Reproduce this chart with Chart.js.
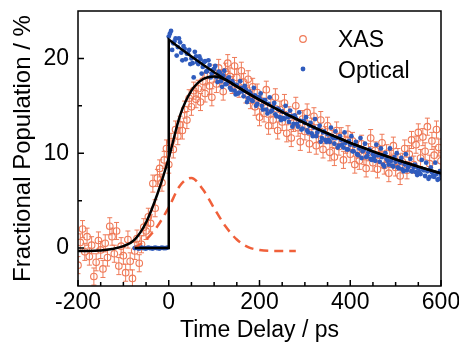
<!DOCTYPE html>
<html>
<head>
<meta charset="utf-8">
<script src="https://cdn.jsdelivr.net/npm/chart.js@4.4.0/dist/chart.umd.min.js"></script>
<style>
  body { margin: 0; background: #fff; }
</style>
</head>
<body>
<canvas id="chart" width="459" height="345"></canvas>
<script>
// XAS transient (open circles with error bars)
const xasTime = [
  -200,-195,-190,-185,-180,-175,-170,-165,-160,-155,
  -150,-145,-140,-135,-130,-125,-120,-115,-110,-105,
  -100,-95,-90,-85,-80,-75,-70,-65,-60,-55,
  -50,-45,-40,-35,-30,-25,-20,-15,-10,-5,
  0,5,10,15,20,25,30,35,40,45,
  50,55,60,65,70,75,80,85,90,95,
  100,105,110,115,120,125,130,135,140,145,
  150,155,160,165,170,175,180,185,190,195,
  200,205,210,215,220,225,230,235,240,245,
  250,255,260,265,270,275,280,285,290,295,
  300,305,310,315,320,325,330,335,340,345,
  350,355,360,365,370,375,380,385,390,395,
  400,405,410,415,420,425,430,435,440,445,
  450,455,460,465,470,475,480,485,490,495,
  500,505,510,515,520,525,530,535,540,545,
  550,555,560,565,570,575,580,585,590,595,
  600
];
const xasValue = [
  -1.8,0.6,2.0,-0.4,1.2,-0.9,0.3,-3.0,-1.5,0.8,
  -0.2,-2.2,0.5,-1.0,2.3,1.2,-0.6,1.8,-1.9,0.2,
  -0.8,-2.6,0.9,-1.4,-3.2,-0.3,1.0,-1.6,0.4,2.2,
  1.8,3.3,2.6,6.8,4.2,7.4,8.4,6.9,9.3,10.5,
  8.8,11.2,10.4,12.5,11.8,13.0,12.4,14.6,13.5,15.8,
  14.9,16.6,15.7,16.8,15.4,17.6,16.3,18.2,17.1,15.9,
  18.4,17.3,19.0,17.9,16.5,18.6,19.5,18.1,17.2,19.2,
  18.0,16.8,18.7,17.5,16.2,17.8,15.6,17.0,14.9,16.4,
  13.8,15.5,14.2,16.7,12.9,14.8,13.5,15.9,12.4,14.6,
  13.3,15.3,12.1,14.0,11.6,13.2,15.0,12.7,11.2,13.6,
  12.3,14.3,11.0,12.8,13.9,10.8,12.1,13.5,10.4,11.9,
  12.9,10.1,11.5,9.6,12.4,10.7,11.8,9.3,10.9,12.0,
  9.9,11.3,8.8,10.4,9.2,11.0,9.7,8.4,10.1,11.6,
  9.0,10.3,8.3,9.8,11.1,8.7,10.0,7.9,9.4,10.8,
  8.5,9.6,7.6,9.1,10.5,8.2,9.9,11.4,8.8,10.9,
  12.2,9.5,11.7,10.2,12.8,8.9,11.3,9.8,12.5,10.6,
  9.2
];
const xasErr = 0.9;

// optical transient (filled dots)
const optTime = [
  -75,-72,-69,-66,-63,-60,-57,-54,-51,-48,-45,-42,-39,-36,-33,-30,-27,-24,-21,-18,-15,-12,-9,-6,-3,
  0,5,10,15,20,25,30,35,40,45,
  50,55,60,65,70,75,80,85,90,95,
  100,105,110,115,120,125,130,135,140,145,
  150,155,160,165,170,175,180,185,190,195,
  200,205,210,215,220,225,230,235,240,245,
  250,255,260,265,270,275,280,285,290,295,
  300,305,310,315,320,325,330,335,340,345,
  350,355,360,365,370,375,380,385,390,395,
  400,405,410,415,420,425,430,435,440,445,
  450,455,460,465,470,475,480,485,490,495,
  500,505,510,515,520,525,530,535,540,545,
  550,555,560,565,570,575,580,585,590,595,
  600,
  2.5,7.5,12.5,17.5,22.5,27.5,32.5,37.5,42.5,47.5,
  52.5,57.5,62.5,67.5,72.5,77.5,82.5,87.5,92.5,97.5,
  102.5,107.5,112.5,117.5,122.5,127.5,132.5,137.5,142.5,147.5,
  152.5,157.5,162.5,167.5,172.5,177.5,182.5,187.5,192.5,197.5,
  202.5,207.5,212.5,217.5,222.5,227.5,232.5,237.5,242.5,247.5,
  252.5,257.5,262.5,267.5,272.5,277.5,282.5,287.5,292.5,297.5,
  302.5,307.5,312.5,317.5,322.5,327.5,332.5,337.5,342.5,347.5,
  352.5,357.5,362.5,367.5,372.5,377.5,382.5,387.5,392.5,397.5,
  402.5,407.5,412.5,417.5,422.5,427.5,432.5,437.5,442.5,447.5,
  452.5,457.5,462.5,467.5,472.5,477.5,482.5,487.5,492.5,497.5,
  502.5,507.5,512.5,517.5,522.5,527.5,532.5,537.5,542.5,547.5,
  552.5,557.5,562.5,567.5,572.5,577.5,582.5,587.5,592.5,597.5
];
const optValue = [
  0,0.05,0,-0.05,0,0.05,0,0,-0.05,0,0.05,0,0,-0.05,0,0.05,0,0,-0.05,0,0.05,0,0,0,0.05,
  22.3,22.9,21.6,22.1,21.2,21.7,19.8,21.0,20.5,20.9,
  20.0,18.0,20.2,19.4,19.9,19.1,19.7,18.7,19.3,18.4,
  18.9,18.0,18.6,17.6,18.2,17.3,17.9,16.9,17.6,16.6,
  17.2,16.4,16.9,16.0,16.7,15.8,16.3,15.5,16.1,15.2,
  15.8,15.0,15.6,14.6,15.2,14.4,14.9,14.1,14.7,13.8,
  14.4,13.6,14.1,13.3,13.9,13.1,13.7,12.8,13.4,12.6,
  13.2,12.4,12.9,12.1,12.7,11.8,12.5,11.2,12.2,11.4,
  12.0,11.2,11.8,11.0,11.6,10.8,11.4,10.6,11.1,10.4,
  10.9,10.2,10.8,9.9,10.5,9.5,10.4,9.6,10.1,9.4,
  9.9,9.2,9.8,9.1,9.6,8.6,9.4,8.8,9.2,8.6,
  9.1,8.5,9.0,8.3,8.8,8.2,8.7,8.1,8.5,8.0,
  8.4,7.8,8.3,7.6,8.1,7.5,8.0,7.5,7.8,7.3,
  7.7,
  22.6,20.9,21.8,20.3,22.1,20.6,21.3,19.9,20.5,19.4,
  19.5,20.7,19.6,20.2,18.4,19.6,18.6,19.8,18.0,18.8,
  19.2,17.5,18.5,17.0,18.7,17.3,18.0,16.7,17.3,16.2,
  16.3,17.6,16.5,17.1,15.4,16.5,15.6,16.9,15.0,15.9,
  16.3,14.6,15.6,14.2,15.9,14.5,15.3,13.9,14.6,13.5,
  13.7,15.0,13.8,14.5,12.8,14.0,13.1,14.3,12.5,13.4,
  13.8,12.2,13.2,11.8,13.6,12.2,12.9,11.6,12.3,11.2,
  11.4,12.7,11.6,12.3,10.6,11.8,10.9,12.2,10.4,11.3,
  11.8,10.2,11.2,9.8,11.6,10.2,11.0,9.7,10.4,9.3,
  9.6,10.9,9.8,10.5,8.8,10.0,9.2,10.5,8.7,9.6,
  10.0,8.4,9.5,8.1,9.9,8.5,9.4,8.1,8.8,7.7,
  8.0,9.3,8.2,9.0,7.3,8.5,7.6,9.0,7.2,8.1
];

// fit to optical data (step + decay)
const fitTime = [-75,0,0,25,50,75,100,125,150,175,200,225,250,275,300,325,350,375,400,425,450,475,500,525,550,575,600];
const fitValue = [0,0,22.0,21.08,20.2,19.35,18.54,17.77,17.02,16.31,15.63,14.98,14.35,13.75,13.17,12.62,12.09,11.59,11.1,10.64,10.19,9.77,9.36,8.97,8.59,8.23,7.89];

// fit to XAS data (broadened rise)
const riseTime = [-200,-175,-150,-125,-100,-75,-50,-25,0,25,50,75,100,125,150,175,200,225,250,275,300,325,350,375,400,425,450,475,500,525,550,575,600];
const riseValue = [-0.3,-0.3,-0.25,-0.1,0.2,0.9,2.7,5.7,9.5,14.0,16.6,17.8,18.1,17.75,17.05,16.31,15.63,14.98,14.35,13.75,13.17,12.62,12.09,11.59,11.1,10.64,10.19,9.77,9.36,8.97,8.59,8.23,7.89];

// difference component (dashed)
const dashTime = [-75,-50,-25,0,25,50,75,100,125,150,175,200,225,250,280];
const dashValue = [0.0,0.9,2.3,4.3,6.6,7.4,6.2,4.2,2.3,0.9,0.1,-0.2,-0.3,-0.3,-0.3];

const xMajor = [-200, 0, 200, 400, 600];
const xMinor = [-150, -100, -50, 50, 100, 150, 250, 300, 350, 450, 500, 550];
const yMajor = [0, 10, 20];
const yMinor = [5, 15];

const FONT = "'Liberation Sans', Arial, sans-serif";
const xasColor = '#ef7a58';
const optColor = '#2f5bbd';

function pts(xs, ys) {
  return xs.map((x, i) => ({x: x, y: ys[i]}));
}

const errorBars = {
  id: 'errorBars',
  beforeDatasetsDraw(chart) {
    const {ctx, chartArea: a, scales: {x, y}} = chart;
    ctx.save();
    ctx.beginPath();
    ctx.rect(a.left, a.top, a.right - a.left, a.bottom - a.top);
    ctx.clip();
    ctx.strokeStyle = xasColor;
    ctx.lineWidth = 1;
    ctx.beginPath();
    for (let i = 0; i < xasTime.length; i++) {
      const px = x.getPixelForValue(xasTime[i]);
      const top = y.getPixelForValue(xasValue[i] + xasErr);
      const bot = y.getPixelForValue(xasValue[i] - xasErr);
      ctx.moveTo(px, top); ctx.lineTo(px, bot);
      ctx.moveTo(px - 2.5, top); ctx.lineTo(px + 2.5, top);
      ctx.moveTo(px - 2.5, bot); ctx.lineTo(px + 2.5, bot);
    }
    ctx.stroke();
    ctx.restore();
  }
};

const frameTicks = {
  id: 'frameTicks',
  afterDatasetsDraw(chart) {
    const {ctx, chartArea: a, scales: {x, y}} = chart;
    ctx.save();
    ctx.strokeStyle = '#000';
    ctx.lineWidth = 1.5;
    ctx.strokeRect(a.left, a.top, a.right - a.left, a.bottom - a.top);
    ctx.beginPath();
    xMajor.forEach(v => { const p = x.getPixelForValue(v); ctx.moveTo(p, a.bottom); ctx.lineTo(p, a.bottom - 6); });
    xMinor.forEach(v => { const p = x.getPixelForValue(v); ctx.moveTo(p, a.bottom); ctx.lineTo(p, a.bottom - 4); });
    yMajor.forEach(v => { const p = y.getPixelForValue(v); ctx.moveTo(a.left, p); ctx.lineTo(a.left + 6, p); });
    yMinor.forEach(v => { const p = y.getPixelForValue(v); ctx.moveTo(a.left, p); ctx.lineTo(a.left + 4, p); });
    ctx.stroke();
    ctx.restore();
  }
};

const insideLegend = {
  id: 'insideLegend',
  afterDraw(chart) {
    const {ctx, chartArea: a} = chart;
    const mx = a.right - 138, tx = a.right - 103;
    ctx.save();
    ctx.strokeStyle = xasColor;
    ctx.lineWidth = 1.2;
    ctx.beginPath();
    ctx.arc(mx, a.top + 28, 3.3, 0, Math.PI * 2);
    ctx.stroke();
    ctx.fillStyle = optColor;
    ctx.beginPath();
    ctx.arc(mx, a.top + 58, 2.4, 0, Math.PI * 2);
    ctx.fill();
    ctx.fillStyle = '#000';
    ctx.font = '23px ' + FONT;
    ctx.textBaseline = 'alphabetic';
    ctx.fillText('XAS', tx, a.top + 36);
    ctx.fillText('Optical', tx, a.top + 67);
    ctx.restore();
  }
};

new Chart(document.getElementById('chart'), {
  type: 'scatter',
  data: {
    datasets: [
      {
        label: 'fit',
        data: pts(fitTime, fitValue),
        showLine: true,
        borderColor: '#000',
        borderWidth: 2.5,
        pointRadius: 0,
        tension: 0,
        order: 0
      },
      {
        label: 'rise',
        data: pts(riseTime, riseValue),
        showLine: true,
        borderColor: '#000',
        borderWidth: 2.5,
        pointRadius: 0,
        cubicInterpolationMode: 'monotone',
        order: 1
      },
      {
        label: 'diff',
        data: pts(dashTime, dashValue),
        showLine: true,
        borderColor: '#f0603a',
        borderWidth: 2.5,
        borderDash: [9, 6],
        pointRadius: 0,
        cubicInterpolationMode: 'monotone',
        order: 2
      },
      {
        label: 'Optical',
        data: pts(optTime, optValue),
        pointRadius: 2.4,
        pointBackgroundColor: optColor,
        pointBorderWidth: 0,
        order: 3
      },
      {
        label: 'XAS',
        data: pts(xasTime, xasValue),
        pointRadius: 3.3,
        pointBackgroundColor: 'rgba(255,255,255,0)',
        pointBorderColor: xasColor,
        pointBorderWidth: 1.1,
        order: 4
      }
    ]
  },
  options: {
    responsive: false,
    animation: false,
    layout: { padding: { left: 0, right: 18, top: 11, bottom: 0 } },
    plugins: {
      legend: { display: false },
      tooltip: { enabled: false }
    },
    scales: {
      x: {
        type: 'linear',
        min: -200,
        max: 600,
        afterBuildTicks: s => { s.ticks = xMajor.map(v => ({value: v})); },
        afterFit: s => { s.height = 59; s.paddingLeft = 0; s.paddingRight = 0; },
        grid: { display: false, drawTicks: false },
        border: { display: false },
        ticks: { color: '#000', font: { size: 23, family: FONT }, padding: 3, maxRotation: 0, autoSkip: false },
        title: { display: true, text: 'Time Delay / ps', color: '#000', font: { size: 23, family: FONT }, padding: { top: 0, bottom: 1 } }
      },
      y: {
        type: 'linear',
        min: -4,
        max: 25,
        afterBuildTicks: s => { s.ticks = yMajor.map(v => ({value: v})); },
        afterFit: s => { s.width = 78; s.paddingTop = 0; s.paddingBottom = 0; },
        grid: { display: false, drawTicks: false },
        border: { display: false },
        ticks: { color: '#000', font: { size: 23, family: FONT }, padding: 9 },
        title: { display: true, text: 'Fractional Population / %', color: '#000', font: { size: 24, family: FONT }, padding: { top: 9, bottom: 0 } }
      }
    }
  },
  plugins: [errorBars, frameTicks, insideLegend]
});
</script>
</body>
</html>
